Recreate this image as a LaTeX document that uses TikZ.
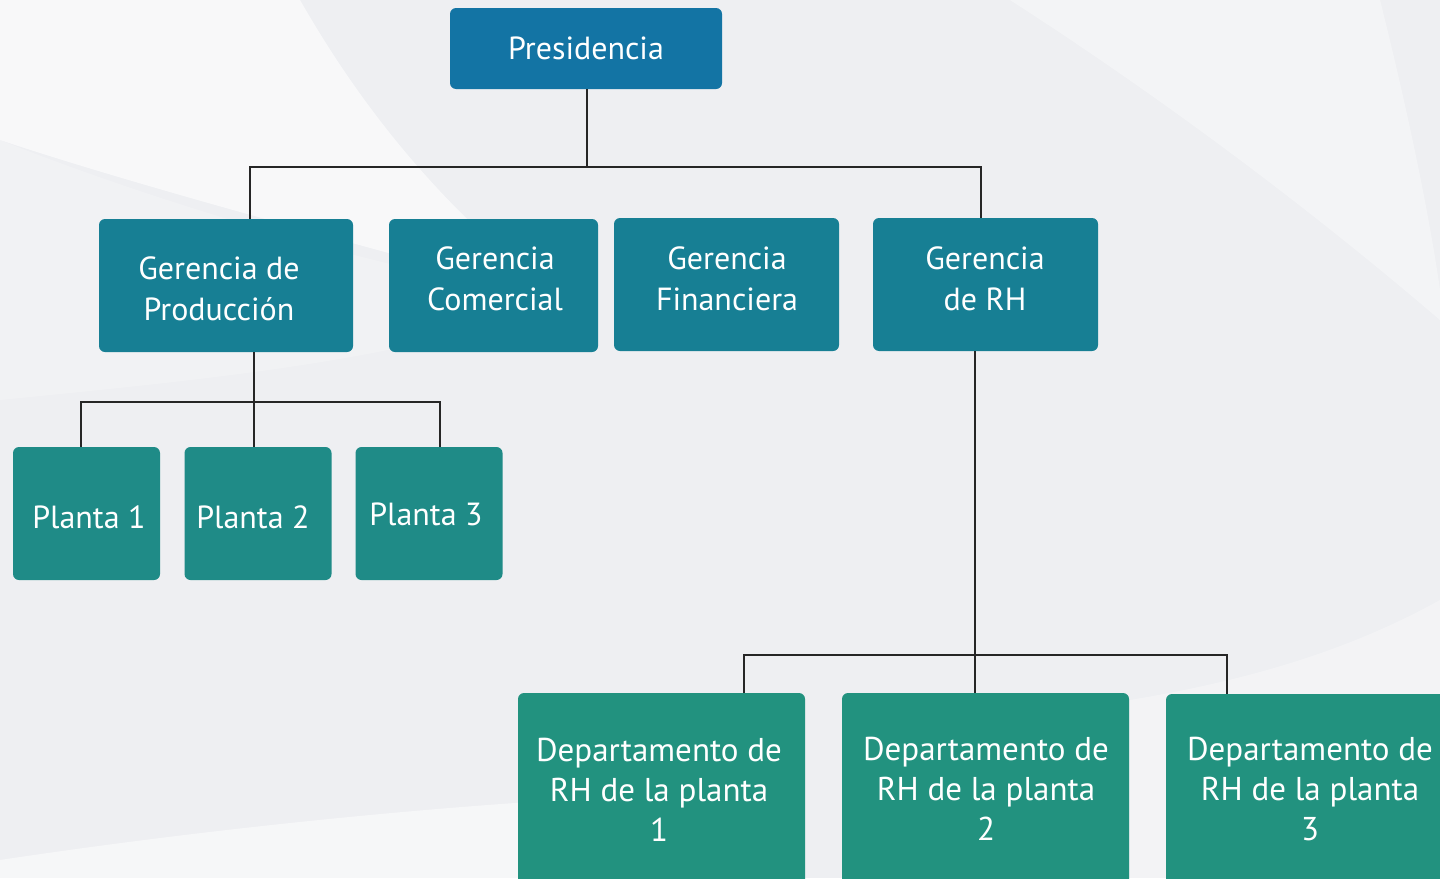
\documentclass[tikz,border=0pt]{standalone}
\usepackage{fontspec}
\setmainfont{PT Sans}
\definecolor{bg}{HTML}{EEEFF2}
\definecolor{cpres}{HTML}{1374A4}
\definecolor{cger}{HTML}{177F94}
\definecolor{cpla}{HTML}{1F8B87}
\definecolor{cdep}{HTML}{22927F}
\tikzset{
  box/.style={rounded corners=3pt, text=white, align=center, font=\fontsize{16}{20.5}\selectfont, inner sep=0pt},
  txt/.style={text=white, align=center, font=\fontsize{16}{20.5}\selectfont, inner sep=0pt},
  link/.style={draw=black!85, line width=1pt}
}
\begin{document}
\begin{tikzpicture}[x=0.5pt,y=-0.5pt]
\clip (0,0) rectangle (1440,878);
\useasboundingbox (0,0) rectangle (1440,878);
% background
\fill[bg] (0,0) rectangle (1440,878);
\fill[white,opacity=0.6] (0,0) -- (300,0) .. controls (380,140) and (470,230) .. (560,300) .. controls (380,250) and (150,190) .. (0,140) -- cycle;
\fill[white,opacity=0.2] (0,140) .. controls (150,200) and (380,270) .. (560,300) .. controls (420,360) and (200,380) .. (0,400) -- cycle;
\fill[white,opacity=0.35] (1010,0) -- (1380,0) .. controls (1410,120) and (1430,220) .. (1440,290) -- (1440,320) .. controls (1300,200) and (1150,90) .. (1010,0) -- cycle;
\fill[white,opacity=0.5] (0,878) -- (0,860) .. controls (200,830) and (400,810) .. (560,800) -- (560,878) -- cycle;
\fill[white,opacity=0.3] (1130,700) .. controls (1250,680) and (1350,650) .. (1440,600) -- (1440,878) -- (1130,878) -- cycle;

% nodes
\node[box, fill=cpres, minimum width=136pt, minimum height=40.5pt] (pres) at (586,48.5) {Presidencia};
\node[box, fill=cger, minimum width=127pt, minimum height=66.5pt] (gp) at (226,285.5) {};
\node[box, fill=cger, minimum width=104.5pt, minimum height=66.5pt] (gc) at (493.5,285.5) {};
\node[box, fill=cger, minimum width=112.5pt, minimum height=66.5pt] (gf) at (726.5,284.5) {};
\node[box, fill=cger, minimum width=112.5pt, minimum height=66.5pt] (grh) at (985.5,284.5) {};
\node[txt] (gpt) at (219,289) {Gerencia de\\Producción};
\node[txt] (gct) at (495,279) {Gerencia\\Comercial};
\node[txt] (gft) at (727,279) {Gerencia\\Financiera};
\node[txt] (grht) at (985,279) {Gerencia\\de RH};
\node[box, fill=cpla, minimum width=73.5pt, minimum height=66.5pt] (p1) at (86.5,513.5) {};
\node[box, fill=cpla, minimum width=73.5pt, minimum height=66.5pt] (p2) at (258,513.5) {};
\node[box, fill=cpla, minimum width=73.5pt, minimum height=66.5pt] (p3) at (429,513.5) {};
\node[txt] (p1t) at (89,517) {Planta 1};
\node[txt] (p2t) at (253,517) {Planta 2};
\node[txt] (p3t) at (426,514) {Planta 3};
\node[box, fill=cdep, minimum width=143.5pt, minimum height=123.5pt] (d1) at (661.5,816.5) {};
\node[box, fill=cdep, minimum width=143.5pt, minimum height=123.5pt] (d2) at (985.5,816.5) {};
\node[box, fill=cdep, minimum width=143.5pt, minimum height=123.5pt] (d3) at (1309.5,817.5) {};
\node[txt, font=\fontsize{16.5}{20}\selectfont] (d1t) at (659,790) {Departamento de\\RH de la planta\\1};
\node[txt, font=\fontsize{16.5}{20}\selectfont] (d2t) at (986,789) {Departamento de\\RH de la planta\\2};
\node[txt, font=\fontsize{16.5}{20}\selectfont] (d3t) at (1310,789) {Departamento de\\RH de la planta\\3};

% connectors
\coordinate (j1) at (587,167);
\draw[link] (pres.south -| j1) -- (j1);
\draw[link] ([xshift=12pt]gp.north) |- ([xshift=-2.25pt]grh.north |- j1) -- ([xshift=-2.25pt]grh.north);
\coordinate (j2) at (254,402);
\draw[link] (gp.south -| j2) -- ([xshift=-2pt]p2.north);
\draw[link] ([xshift=-2.75pt]p1.north) |- ([xshift=5.5pt]p3.north |- j2) -- ([xshift=5.5pt]p3.north);
\coordinate (j3) at (975,655);
\draw[link] (grh.south -| j3) -- ([xshift=-5.25pt]d2.north);
\draw[link] ([xshift=41.25pt]d1.north) |- ([xshift=-41.25pt]d3.north |- j3) -- ([xshift=-41.25pt]d3.north);
\end{tikzpicture}
\end{document}
